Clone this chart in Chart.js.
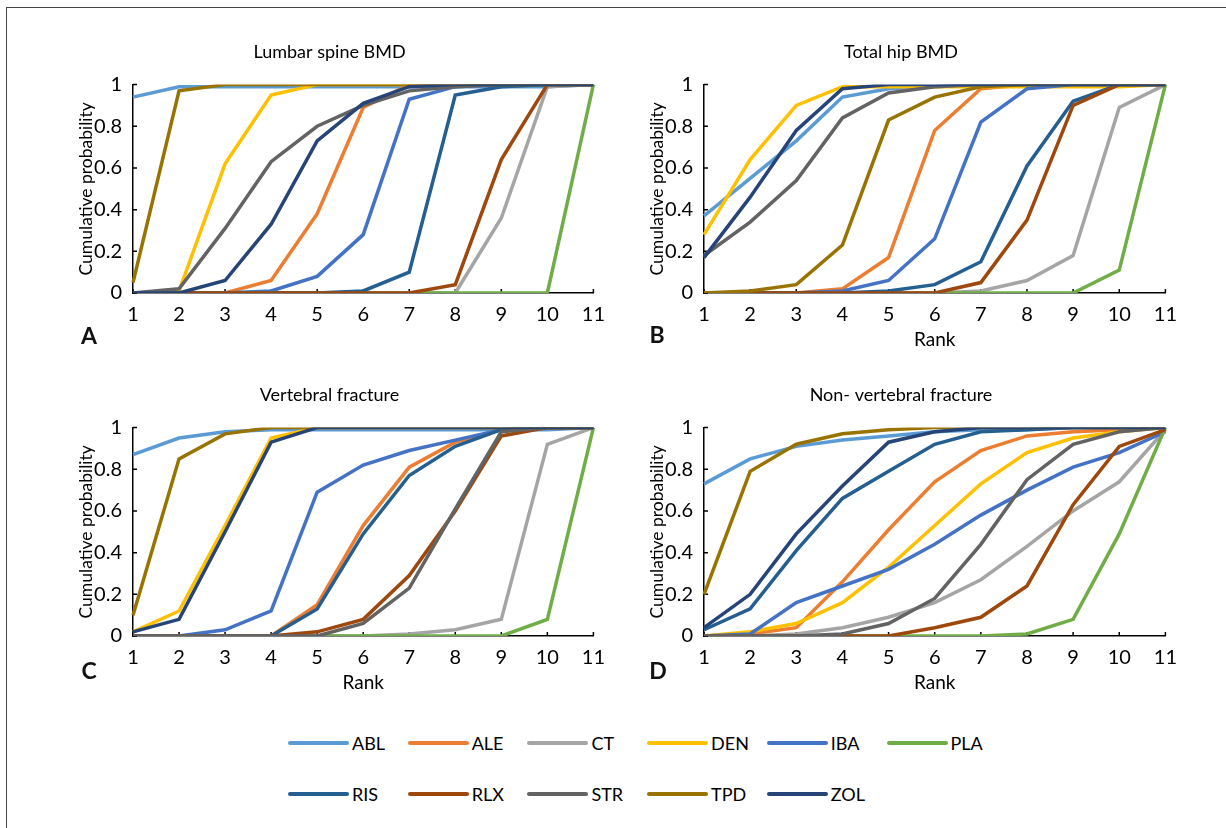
<!DOCTYPE html>
<html lang="en">
<head>
<meta charset="UTF-8">
<title>Cumulative rank probabilities</title>
<script src="https://cdn.jsdelivr.net/npm/chart.js"></script>
<style>
    body { margin: 0; background: #fff; font-family: Lato, sans-serif; }
    #page { position: relative; width: 1226px; height: 828px; overflow: hidden; background: #fff; }
    .frame { position: absolute; left: 6px; top: 7px; width: 1400px; height: 1000px; border-left: 1.5px solid #444; border-top: 1.5px solid #444; }
    .panel { position: absolute; }
    .letter { position: absolute; font: bold 23px Lato, sans-serif; color: #111; transform: translate(-50%, -50%); }
    .legend-item { position: absolute; display: flex; align-items: center; font-size: 18px; color: #000; }
    .legend-item .swatch { display: inline-block; width: 61px; height: 4px; border-radius: 2px; margin-right: 3px; }
</style>
</head>
<body>
<div id="page">
    <div class="frame"></div>

    <div class="panel" style="left:60px; top:30px; width:555px; height:325px"><canvas id="chartA"></canvas></div>
    <div class="panel" style="left:631px; top:30px; width:556px; height:325px"><canvas id="chartB"></canvas></div>
    <div class="panel" style="left:60px; top:373px; width:555px; height:325px"><canvas id="chartC"></canvas></div>
    <div class="panel" style="left:631px; top:373px; width:556px; height:325px"><canvas id="chartD"></canvas></div>

    <span class="letter" style="left:89px; top:335px">A</span>
    <span class="letter" style="left:657px; top:334px">B</span>
    <span class="letter" style="left:89px; top:670px">C</span>
    <span class="letter" style="left:658px; top:670px">D</span>

    <div id="legend"></div>
</div>

<script>
    // ranks on the x axis
    const ranks = ['1', '2', '3', '4', '5', '6', '7', '8', '9', '10', '11'];

    // treatments, in legend order, with their colours
    const treatments = ['ABL', 'ALE', 'CT', 'DEN', 'IBA', 'PLA', 'RIS', 'RLX', 'STR', 'TPD', 'ZOL'];
    const colors = ['#5B9BD5', '#ED7D31', '#A5A5A5', '#FFC000', '#4472C4', '#70AD47',
                    '#255E91', '#9E480E', '#636363', '#997300', '#264478'];

    // cumulative probability by rank, one row per treatment (same order as above)
    const lumbarSpine = [
        [0.94, 0.99, 0.99, 0.99, 0.99, 0.99, 0.99, 0.99, 0.99, 0.99, 1],
        [0, 0, 0, 0.06, 0.38, 0.89, 1, 1, 1, 1, 1],
        [0, 0, 0, 0, 0, 0, 0, 0, 0.36, 0.99, 1],
        [0, 0.01, 0.62, 0.95, 1, 1, 1, 1, 1, 1, 1],
        [0, 0, 0, 0.01, 0.08, 0.28, 0.93, 0.99, 1, 1, 1],
        [0, 0, 0, 0, 0, 0, 0, 0, 0, 0, 1],
        [0, 0, 0, 0, 0, 0.01, 0.10, 0.95, 0.99, 1, 1],
        [0, 0, 0, 0, 0, 0, 0, 0.04, 0.64, 1, 1],
        [0, 0.02, 0.31, 0.63, 0.80, 0.90, 0.97, 0.99, 1, 1, 1],
        [0.05, 0.97, 1, 1, 1, 1, 1, 1, 1, 1, 1],
        [0, 0, 0.06, 0.33, 0.73, 0.91, 0.99, 1, 1, 1, 1]
    ];

    const totalHip = [
        [0.37, 0.55, 0.73, 0.94, 0.98, 0.99, 1, 1, 1, 1, 1],
        [0, 0, 0, 0.02, 0.17, 0.78, 0.98, 1, 1, 1, 1],
        [0, 0, 0, 0, 0, 0, 0.01, 0.06, 0.18, 0.89, 1],
        [0.28, 0.64, 0.90, 0.99, 0.99, 0.99, 0.99, 0.99, 0.99, 0.99, 1],
        [0, 0, 0, 0.01, 0.06, 0.26, 0.82, 0.98, 1, 1, 1],
        [0, 0, 0, 0, 0, 0, 0, 0, 0, 0.11, 1],
        [0, 0, 0, 0, 0.01, 0.04, 0.15, 0.61, 0.92, 1, 1],
        [0, 0, 0, 0, 0, 0, 0.05, 0.35, 0.90, 1, 1],
        [0.18, 0.34, 0.54, 0.84, 0.96, 0.99, 1, 1, 1, 1, 1],
        [0, 0.01, 0.04, 0.23, 0.83, 0.94, 0.99, 1, 1, 1, 1],
        [0.17, 0.46, 0.78, 0.98, 1, 1, 1, 1, 1, 1, 1]
    ];

    const vertebral = [
        [0.87, 0.95, 0.98, 0.99, 0.99, 0.99, 0.99, 0.99, 0.99, 0.99, 1],
        [0, 0, 0, 0, 0.15, 0.53, 0.81, 0.93, 0.99, 1, 1],
        [0, 0, 0, 0, 0, 0, 0.01, 0.03, 0.08, 0.92, 1],
        [0.02, 0.12, 0.53, 0.95, 1, 1, 1, 1, 1, 1, 1],
        [0, 0, 0.03, 0.12, 0.69, 0.82, 0.89, 0.94, 0.99, 1, 1],
        [0, 0, 0, 0, 0, 0, 0, 0, 0, 0.08, 1],
        [0, 0, 0, 0, 0.13, 0.49, 0.77, 0.91, 0.99, 1, 1],
        [0, 0, 0, 0, 0.02, 0.08, 0.29, 0.60, 0.96, 1, 1],
        [0, 0, 0, 0, 0, 0.06, 0.23, 0.61, 0.98, 1, 1],
        [0.10, 0.85, 0.97, 1, 1, 1, 1, 1, 1, 1, 1],
        [0.02, 0.08, 0.50, 0.93, 1, 1, 1, 1, 1, 1, 1]
    ];

    const nonVertebral = [
        [0.73, 0.85, 0.91, 0.94, 0.96, 0.98, 0.99, 0.99, 1, 1, 1],
        [0, 0.01, 0.04, 0.26, 0.51, 0.74, 0.89, 0.96, 0.98, 0.99, 1],
        [0, 0, 0.01, 0.04, 0.09, 0.16, 0.27, 0.43, 0.60, 0.74, 0.99],
        [0, 0.02, 0.06, 0.16, 0.33, 0.53, 0.73, 0.88, 0.95, 0.98, 1],
        [0, 0.01, 0.16, 0.24, 0.32, 0.44, 0.58, 0.70, 0.81, 0.88, 0.98],
        [0, 0, 0, 0, 0, 0, 0, 0.01, 0.08, 0.49, 1],
        [0.03, 0.13, 0.41, 0.66, 0.79, 0.92, 0.98, 0.99, 1, 1, 1],
        [0, 0, 0, 0, 0, 0.04, 0.09, 0.24, 0.63, 0.91, 0.99],
        [0, 0, 0, 0.01, 0.06, 0.18, 0.44, 0.75, 0.92, 0.98, 1],
        [0.20, 0.79, 0.92, 0.97, 0.99, 1, 1, 1, 1, 1, 1],
        [0.04, 0.20, 0.49, 0.72, 0.93, 0.98, 1, 1, 1, 1, 1]
    ];

    Chart.defaults.font.family = 'Lato, sans-serif';
    Chart.defaults.color = '#000';

    // small tick marks pointing into the plot, drawn under the lines
    const innerTicks = {
        id: 'innerTicks',
        beforeDatasetsDraw(chart) {
            const {ctx, chartArea, scales: {x, y}} = chart;
            ctx.save();
            ctx.strokeStyle = '#000';
            ctx.lineWidth = 1.5;
            ctx.beginPath();
            x.ticks.forEach((t, i) => {
                const px = x.getPixelForTick(i);
                ctx.moveTo(px, chartArea.bottom);
                ctx.lineTo(px, chartArea.bottom - 4);
            });
            y.ticks.forEach((t, i) => {
                const py = y.getPixelForTick(i);
                ctx.moveTo(chartArea.left, py);
                ctx.lineTo(chartArea.left + 4, py);
            });
            ctx.stroke();
            ctx.restore();
        }
    };

    function makePanel(id, title, rows, showRank) {
        new Chart(document.getElementById(id), {
            type: 'line',
            data: {
                labels: ranks,
                datasets: treatments.map((name, i) => ({
                    label: name,
                    data: rows[i],
                    borderColor: colors[i],
                    backgroundColor: colors[i],
                    borderWidth: 3.5,
                    pointRadius: 0,
                    tension: 0,
                    fill: false,
                    order: treatments.length - i   // later series drawn on top
                }))
            },
            options: {
                responsive: true,
                maintainAspectRatio: false,
                animation: false,
                layout: { padding: { left: 0, right: 16, top: 0, bottom: 0 } },
                plugins: {
                    legend: { display: false },
                    tooltip: { enabled: false },
                    title: {
                        display: true,
                        text: title,
                        color: '#000',
                        font: { size: 18, weight: 'normal' },
                        padding: { top: 11, bottom: 22 }
                    }
                },
                scales: {
                    x: {
                        offset: false,
                        grid: { display: false, drawTicks: false },
                        border: { display: true, color: '#000', width: 1.5 },
                        ticks: { color: '#000', font: { size: 20 }, padding: 10, maxRotation: 0, autoSkip: false },
                        title: { display: showRank, text: 'Rank', color: '#000', font: { size: 19 }, padding: { top: 0, bottom: 4 } },
                        afterFit(scale) { scale.height = 62; }
                    },
                    y: {
                        min: 0,
                        max: 1,
                        grid: { display: false, drawTicks: false },
                        border: { display: true, color: '#000', width: 1.5 },
                        ticks: {
                            stepSize: 0.2, color: '#000', font: { size: 20 }, padding: 11,
                            callback: v => String(Math.round(v * 10) / 10)
                        },
                        title: { display: true, text: 'Cumulative probability', color: '#000', font: { size: 17.5 }, padding: { top: 16, bottom: 0 } },
                        afterFit(scale) { scale.width = 73; }
                    }
                }
            },
            plugins: [innerTicks]
        });
    }

    makePanel('chartA', 'Lumbar spine BMD', lumbarSpine, false);
    makePanel('chartB', 'Total hip BMD', totalHip, true);
    makePanel('chartC', 'Vertebral fracture', vertebral, true);
    makePanel('chartD', 'Non- vertebral fracture', nonVertebral, true);

    // legend: two rows of six and five entries
    const legend = document.getElementById('legend');
    treatments.forEach((name, i) => {
        const col = i % 6, row = Math.floor(i / 6);
        const item = document.createElement('div');
        item.className = 'legend-item';
        item.style.left = (288 + col * 119.7) + 'px';
        item.style.top = (732 + row * 51) + 'px';
        item.innerHTML = '<span class="swatch" style="background:' + colors[i] + '"></span>' + name;
        legend.appendChild(item);
    });
</script>
</body>
</html>
